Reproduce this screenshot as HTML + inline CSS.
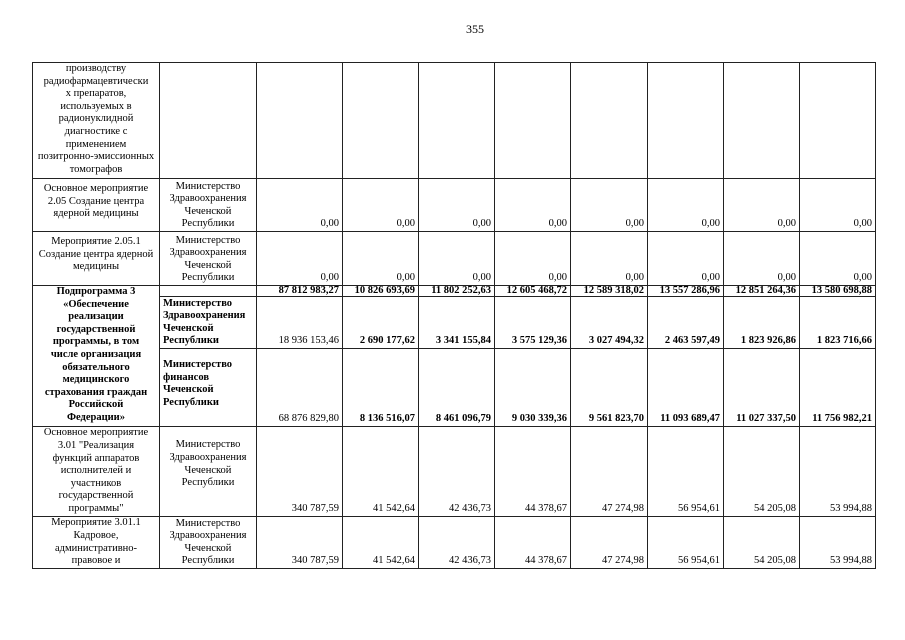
<!DOCTYPE html>
<html><head><meta charset="utf-8"><style>
body{margin:0;background:#fff;width:905px;height:640px;position:relative;overflow:hidden;font-family:"Liberation Serif","Noto Serif CJK SC",serif;color:#000}
.pn{position:absolute;top:22px;left:0;width:905px;text-align:center;font-size:12px;padding-left:45px;box-sizing:border-box}
table{position:absolute;left:32px;top:62px;border-collapse:collapse;table-layout:fixed;width:843px;font-size:10.5px;line-height:12.6px}
td{border:1px solid #222;padding:0 3px;overflow:hidden;white-space:nowrap}
td.c1{text-align:center;vertical-align:middle}
td.c2{text-align:center;vertical-align:bottom}
td.n{text-align:right;vertical-align:bottom}
.b{font-weight:bold}
td.l{text-align:left}
tr.t td.n{line-height:10px}
</style></head><body>
<div class="pn">355</div>
<table>
<colgroup><col style="width:127px"><col style="width:97px"><col style="width:86px"><col style="width:76px"><col style="width:76px"><col style="width:76px"><col style="width:77px"><col style="width:76px"><col style="width:76px"><col style="width:76px"></colgroup>
<tr style="height:116px"><td class="c1" style="vertical-align:top">производству<br>радиофармацевтически<br>х препаратов,<br>используемых в<br>радионуклидной<br>диагностике с<br>применением<br>позитронно-эмиссионных<br>томографов</td><td></td><td></td><td></td><td></td><td></td><td></td><td></td><td></td><td></td></tr>
<tr style="height:53px"><td class="c1" style="vertical-align:top;padding-top:4px">Основное мероприятие<br>2.05 Создание центра<br>ядерной медицины</td><td class="c2">Министерство<br>Здравоохранения<br>Чеченской<br>Республики</td><td class="n">0,00</td><td class="n">0,00</td><td class="n">0,00</td><td class="n">0,00</td><td class="n">0,00</td><td class="n">0,00</td><td class="n">0,00</td><td class="n">0,00</td></tr>
<tr style="height:54px"><td class="c1" style="vertical-align:top;padding-top:4px">Мероприятие 2.05.1<br>Создание центра ядерной<br>медицины</td><td class="c2">Министерство<br>Здравоохранения<br>Чеченской<br>Республики</td><td class="n">0,00</td><td class="n">0,00</td><td class="n">0,00</td><td class="n">0,00</td><td class="n">0,00</td><td class="n">0,00</td><td class="n">0,00</td><td class="n">0,00</td></tr>
<tr class="t" style="height:10px"><td class="c1 b" rowspan="3" style="vertical-align:top">Подпрограмма 3<br>«Обеспечение<br>реализации<br>государственной<br>программы, в том<br>числе организация<br>обязательного<br>медицинского<br>страхования граждан<br>Российской<br>Федерации»</td><td></td><td class="n b">87 812 983,27</td><td class="n b">10 826 693,69</td><td class="n b">11 802 252,63</td><td class="n b">12 605 468,72</td><td class="n b">12 589 318,02</td><td class="n b">13 557 286,96</td><td class="n b">12 851 264,36</td><td class="n b">13 580 698,88</td></tr>
<tr style="height:52px"><td class="b l" style="vertical-align:bottom">Министерство<br>Здравоохранения<br>Чеченской<br>Республики</td><td class="n">18 936 153,46</td><td class="n b">2 690 177,62</td><td class="n b">3 341 155,84</td><td class="n b">3 575 129,36</td><td class="n b">3 027 494,32</td><td class="n b">2 463 597,49</td><td class="n b">1 823 926,86</td><td class="n b">1 823 716,66</td></tr>
<tr style="height:78px"><td class="b l" style="vertical-align:top;padding-top:10px">Министерство<br>финансов<br>Чеченской<br>Республики</td><td class="n">68 876 829,80</td><td class="n b">8 136 516,07</td><td class="n b">8 461 096,79</td><td class="n b">9 030 339,36</td><td class="n b">9 561 823,70</td><td class="n b">11 093 689,47</td><td class="n b">11 027 337,50</td><td class="n b">11 756 982,21</td></tr>
<tr style="height:90px"><td class="c1">Основное мероприятие<br>3.01 "Реализация<br>функций аппаратов<br>исполнителей и<br>участников<br>государственной<br>программы"</td><td class="c1" style="padding-bottom:14px">Министерство<br>Здравоохранения<br>Чеченской<br>Республики</td><td class="n">340 787,59</td><td class="n">41 542,64</td><td class="n">42 436,73</td><td class="n">44 378,67</td><td class="n">47 274,98</td><td class="n">56 954,61</td><td class="n">54 205,08</td><td class="n">53 994,88</td></tr>
<tr style="height:52px"><td class="c1">Мероприятие 3.01.1<br>Кадровое,<br>административно-<br>правовое и</td><td class="c2">Министерство<br>Здравоохранения<br>Чеченской<br>Республики</td><td class="n">340 787,59</td><td class="n">41 542,64</td><td class="n">42 436,73</td><td class="n">44 378,67</td><td class="n">47 274,98</td><td class="n">56 954,61</td><td class="n">54 205,08</td><td class="n">53 994,88</td></tr>
</table>
</body></html>
